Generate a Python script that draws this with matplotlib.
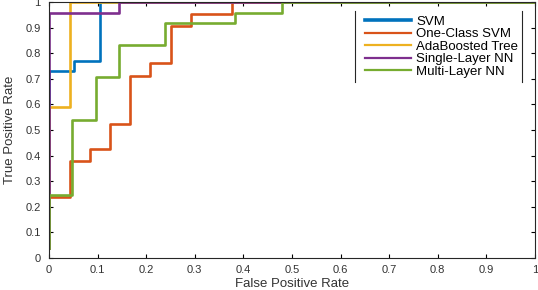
import matplotlib.pyplot as plt
from matplotlib.lines import Line2D

plt.rcParams.update({
    "font.family": ["Liberation Sans", "DejaVu Sans"],
    "font.size": 8,
})

# ROC step points (fpr, tpr), drawn as steps-post
svm_fpr = [0, 0, 0.051, 0.105, 1]
svm_tpr = [0.04, 0.732, 0.768, 1.0, 1.0]

ocsvm_fpr = [0, 0.043, 0.084, 0.126, 0.167, 0.208, 0.252, 0.293, 0.376, 1]
ocsvm_tpr = [0.237, 0.38, 0.426, 0.522, 0.711, 0.762, 0.906, 0.953, 1.0, 1.0]

ada_fpr = [0, 0, 0.043, 1]
ada_tpr = [0.04, 0.591, 1.0, 1.0]

slnn_fpr = [0, 0, 0.144, 1]
slnn_tpr = [0.04, 0.957, 1.0, 1.0]

mlnn_fpr = [0, 0, 0.048, 0.096, 0.145, 0.239, 0.383, 0.479, 1]
mlnn_tpr = [0.04, 0.247, 0.54, 0.707, 0.832, 0.918, 0.957, 1.0, 1.0]

labels = ["SVM", "One-Class SVM", "AdaBoosted Tree", "Single-Layer NN", "Multi-Layer NN"]
colors = ["#0072BD", "#D95319", "#EDB120", "#7E2F8E", "#77AC30"]
series = [(svm_fpr, svm_tpr), (ocsvm_fpr, ocsvm_tpr), (ada_fpr, ada_tpr),
          (slnn_fpr, slnn_tpr), (mlnn_fpr, mlnn_tpr)]

x_ticks = [0, 0.1, 0.2, 0.3, 0.4, 0.5, 0.6, 0.7, 0.8, 0.9, 1]
y_ticks = [0, 0.1, 0.2, 0.3, 0.4, 0.5, 0.6, 0.7, 0.8, 0.9, 1]

fig = plt.figure(figsize=(5.38, 2.90), dpi=100)
ax = fig.add_axes([49 / 538, 32 / 290, 486 / 538, 256 / 290])

for (fx, ty), lab, c in zip(series, labels, colors):
    ax.plot(fx, ty, drawstyle="steps-post", color=c, linewidth=1.9, label=lab)

ax.set_xlim(0, 1)
ax.set_ylim(0, 1)
ax.set_xticks(x_ticks)
ax.set_yticks(y_ticks)
ax.set_xticklabels([f"{t:g}" for t in x_ticks])
ax.set_yticklabels([f"{t:g}" for t in y_ticks])
ax.tick_params(direction="in", top=True, right=True, length=3, width=0.8,
               labelsize=8, labelcolor="#333333")
ax.tick_params(axis="x", pad=5)
ax.tick_params(axis="y", pad=6)
for s in ax.spines.values():
    s.set_linewidth(0.8)
    s.set_color("#262626")

ax.set_xlabel("False Positive Rate", fontsize=9.5, color="#333333", labelpad=2)
ax.set_ylabel("True Positive Rate", fontsize=9.5, color="#333333", labelpad=7)

handles = [Line2D([], [], color=c, linewidth=2.6 if i == 0 else 1.6)
           for i, c in enumerate(colors)]
leg = ax.legend(handles, labels, loc="upper right", bbox_to_anchor=(0.9733, 0.963),
                fontsize=9.5, frameon=False, handlelength=3.5, handletextpad=0.38,
                labelspacing=0.02, borderpad=0.3, borderaxespad=0)

# legend box: only the side edges show in the reference
fig.canvas.draw()
bb = leg.get_window_extent()
inv = ax.transAxes.inverted()
for xe in (bb.x0 - 6, bb.x1):
    (ax0, ay0), (_, ay1) = inv.transform([(xe, bb.y0), (xe, bb.y1)])
    ax.plot([ax0, ax0], [ay0, ay1], transform=ax.transAxes, color="#262626",
            linewidth=0.8, clip_on=False)

fig.savefig("out.png", dpi=100)
